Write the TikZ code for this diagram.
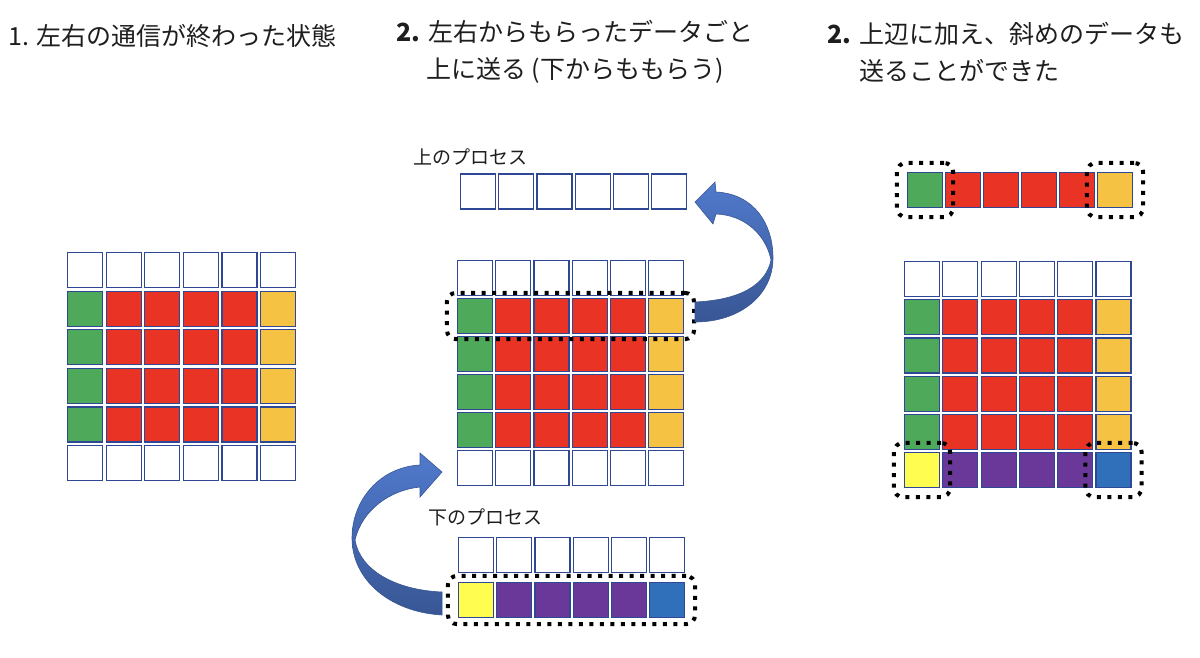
\documentclass[tikz,border=0pt]{standalone}
\usepackage{fontspec}
\setmainfont{Noto Sans CJK JP}
\usetikzlibrary{fit}
\definecolor{cellline}{RGB}{47,72,150}
\definecolor{cgreen}{RGB}{78,170,90}
\definecolor{cred}{RGB}{233,51,36}
\definecolor{corange}{RGB}{246,194,68}
\definecolor{cyellow}{RGB}{255,253,80}
\definecolor{cpurple}{RGB}{106,56,152}
\definecolor{cblue}{RGB}{48,112,186}
\definecolor{arrowtop}{RGB}{80,122,204}
\definecolor{arrowbot}{RGB}{56,86,148}
\definecolor{textgray}{RGB}{30,30,30}
\tikzset{
  cell/.style={draw=cellline, line width=1.2pt, minimum size=35pt, inner sep=0pt, fill=white},
  dotbox/.style={draw=black, line width=4pt, dash pattern=on 4pt off 6.5pt, rounded corners=9pt, inner sep=0pt},
  heading/.style={font=\fontsize{25}{37}\selectfont, text=textgray},
  proclabel/.style={font=\fontsize{19}{21}\selectfont, text=textgray, anchor=west},
  bigarrow/.style={draw=arrowbot, line width=0.6pt, top color=arrowtop, bottom color=arrowbot},
}
\begin{document}
\begin{tikzpicture}[x=1pt,y=-1pt]
\useasboundingbox (0,0) rectangle (1200,657);
% headings
\node[heading, anchor=west] (h1) at (5,36) {1. 左右の通信が終わった状態};
\node[heading, align=center] (h2) at (575,52) {\textbf{2.} 左右からもらったデータごと\\上に送る (下からももらう)};
\node[heading, anchor=west, align=left] (h3) at (824,52) {\textbf{2.} 上辺に加え、斜めのデータも\\\hphantom{\textbf{2.} }送ることができた};

% 1. left grid
\foreach \c in {1,...,6}{
  \node[cell] (a1\c) at ({85+38.6*(\c-1)},270) {};
  \node[cell] (a6\c) at ({85+38.6*(\c-1)},463) {};
}
\foreach \r in {2,...,5}
  \foreach \c/\col in {1/cgreen,2/cred,3/cred,4/cred,5/cred,6/corange}
    \node[cell, fill=\col] (a\r\c) at ({85+38.6*(\c-1)},{270+38.6*(\r-1)}) {};

% 2. middle grid with upper and lower process
\node[proclabel] (uplabel) at (410,157) {上のプロセス};
\foreach \c in {1,...,6}
  \node[cell] (u\c) at ({478+38.2*(\c-1)},191.5) {};
\foreach \c in {1,...,6}{
  \node[cell] (b1\c) at ({475+38.2*(\c-1)},278) {};
  \node[cell] (b6\c) at ({475+38.2*(\c-1)},468) {};
}
\foreach \r in {2,...,5}
  \foreach \c/\col in {1/cgreen,2/cred,3/cred,4/cred,5/cred,6/corange}
    \node[cell, fill=\col] (b\r\c) at ({475+38.2*(\c-1)},{278+38*(\r-1)}) {};
\node[proclabel] (downlabel) at (425,517) {下のプロセス};
\foreach \c/\col in {1/cyellow,2/cpurple,3/cpurple,4/cpurple,5/cpurple,6/cblue}{
  \node[cell] (d1\c) at ({476+38.2*(\c-1)},555) {};
  \node[cell, fill=\col] (d2\c) at ({476+38.2*(\c-1)},600) {};
}
\node[dotbox, fit=(b21)(b26), inner xsep=10pt, inner ysep=5pt] (sendbox) {};
\node[dotbox, fit=(d21)(d26), inner xsep=10pt, inner ysep=6pt] (recvbox) {};

% curved arrows
\path[bigarrow] (695,322) .. controls (740,322) and (773,295) .. (773,258)
  .. controls (773,225) and (755,194) .. (716,192) -- (715,182) -- (695,202)
  -- (713,224) -- (716,214) .. controls (745,215) and (766,235) .. (771,260)
  .. controls (766,285) and (740,300) .. (695,302) -- cycle;
\path[bigarrow] (442,615) .. controls (390,612) and (352,580) .. (352,538)
  .. controls (352,500) and (380,467) .. (420,465) -- (420,453) -- (442,472)
  -- (420,497) -- (420,487) .. controls (390,490) and (362,510) .. (355,540)
  .. controls (360,570) and (395,590) .. (442,592) -- cycle;

% 3. right grid
\foreach \c/\col in {1/cgreen,2/cred,3/cred,4/cred,5/cred,6/corange}
  \node[cell, fill=\col] (t\c) at ({925+38*(\c-1)},190) {};
\foreach \c in {1,...,6}
  \node[cell] (c1\c) at ({922+38.3*(\c-1)},279) {};
\foreach \r in {2,...,5}
  \foreach \c/\col in {1/cgreen,2/cred,3/cred,4/cred,5/cred,6/corange}
    \node[cell, fill=\col] (c\r\c) at ({922+38.3*(\c-1)},{279+38.2*(\r-1)}) {};
\foreach \c/\col in {1/cyellow,2/cpurple,3/cpurple,4/cpurple,5/cpurple,6/cblue}
  \node[cell, fill=\col] (c6\c) at ({922+38.3*(\c-1)},470) {};
\node[dotbox, fit=(t1), inner xsep=10pt, inner ysep=9pt] (cornerA) {};
\node[dotbox, fit=(t6), inner xsep=10pt, inner ysep=9pt] (cornerB) {};
\node[dotbox, fit=(c61), inner xsep=10pt, inner ysep=9pt] (cornerC) {};
\node[dotbox, fit=(c66), inner xsep=10pt, inner ysep=9pt] (cornerD) {};
\end{tikzpicture}
\end{document}
